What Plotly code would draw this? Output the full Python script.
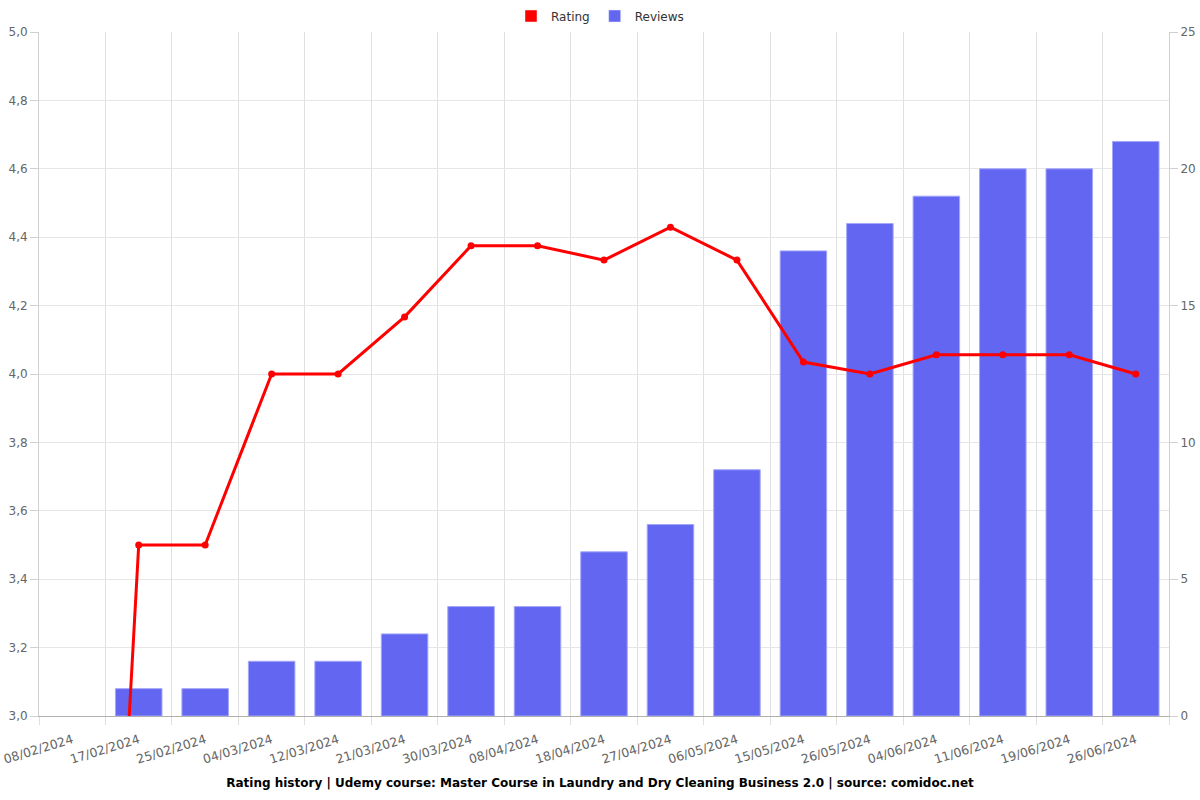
import plotly.graph_objects as go

dates = ["08/02/2024", "17/02/2024", "25/02/2024", "04/03/2024", "12/03/2024",
         "21/03/2024", "30/03/2024", "08/04/2024", "18/04/2024", "27/04/2024",
         "06/05/2024", "15/05/2024", "26/05/2024", "04/06/2024", "11/06/2024",
         "19/06/2024", "26/06/2024"]
rating = [0, 3.5, 3.5, 4.0, 4.0, 4.167, 4.375, 4.375, 4.333, 4.429, 4.333,
          4.035, 4.0, 4.056, 4.056, 4.056, 4.0]
reviews = [0, 1, 1, 2, 2, 3, 4, 4, 6, 7, 9, 17, 18, 19, 20, 20, 21]

left_ticks = [3.0, 3.2, 3.4, 3.6, 3.8, 4.0, 4.2, 4.4, 4.6, 4.8, 5.0]
right_ticks = [0, 5, 10, 15, 20, 25]

xs = list(range(len(dates)))
bounds = [i - 0.5 for i in range(len(dates) + 1)]

fig = go.Figure()
fig.add_trace(go.Bar(
    x=xs, y=reviews, name="Reviews", width=0.7,
    marker=dict(color="rgb(99,102,241)",
                line=dict(color="rgba(165,167,250,1)",
                          width=[0 if v == 0 else 1 for v in reviews])),
    yaxis="y", showlegend=False,
))
fig.add_trace(go.Scatter(
    x=xs, y=rating, name="Rating", mode="lines+markers",
    line=dict(color="#ff0000", width=3), marker=dict(color="#ff0000", size=7),
    yaxis="y2", showlegend=False, cliponaxis=True,
))
# legend entries
fig.add_trace(go.Bar(x=[None], y=[None], name="Rating",
                     marker=dict(color="#ff0000"), showlegend=True))
fig.add_trace(go.Bar(x=[None], y=[None], name="Reviews",
                     marker=dict(color="rgb(99,102,241)"), showlegend=True))

font = "DejaVu Sans, Verdana, sans-serif"
fig.update_layout(
    width=1200, height=800,
    margin=dict(l=39, r=31, t=32, b=84, autoexpand=False),
    paper_bgcolor="white", plot_bgcolor="white",
    font=dict(family=font, size=12, color="#666666"),
    barmode="overlay",
    showlegend=True,
    legend=dict(orientation="h", x=0.5, xanchor="center", y=0.98, yanchor="middle",
                xref="container", yref="container",
                font=dict(size=12, color="#333333"), traceorder="normal"),
    title=dict(text="<b>Rating history | Udemy course: Master Course in Laundry and Dry Cleaning Business 2.0 | source: comidoc.net</b>",
               x=0.5, xanchor="center", y=0.021, yanchor="middle", yref="container",
               font=dict(family=font, size=12, color="#000000")),
    xaxis=dict(
        range=[-0.5, len(dates) - 0.5], automargin=False,
        tickvals=xs, ticktext=dates, tickangle=-17, ticks="",
        ticklabelstandoff=11,
        showgrid=False, zeroline=False,
        showline=True, linecolor="#b0b0b0", linewidth=1,
        tickfont=dict(size=12.5, color="#666666"),
        minor=dict(tickvals=bounds, showgrid=True, gridcolor="#e0e0e0", gridwidth=1,
                   ticks="outside", ticklen=8, tickcolor="#e0e0e0"),
    ),
    yaxis=dict(
        side="right", range=[0, 25], tickvals=right_ticks, automargin=False,
        showgrid=True, gridcolor="#d0d0d0", zeroline=False,
        showline=True, linecolor="#d0d0d0", ticks="outside", ticklen=8,
        tickcolor="#d0d0d0", tickfont=dict(size=12, color="#666666"),
    ),
    yaxis2=dict(
        overlaying="y", side="left", range=[3, 5], tickvals=left_ticks,
        automargin=False,
        ticktext=[f"{v:.1f}".replace(".", ",") for v in left_ticks],
        showgrid=True, gridcolor="#e6e6e6", zeroline=False,
        showline=True, linecolor="#d0d0d0", ticks="outside", ticklen=8,
        tickcolor="#d0d0d0", tickfont=dict(size=12, color="#666666"),
    ),
)

fig.write_html("out.html")
